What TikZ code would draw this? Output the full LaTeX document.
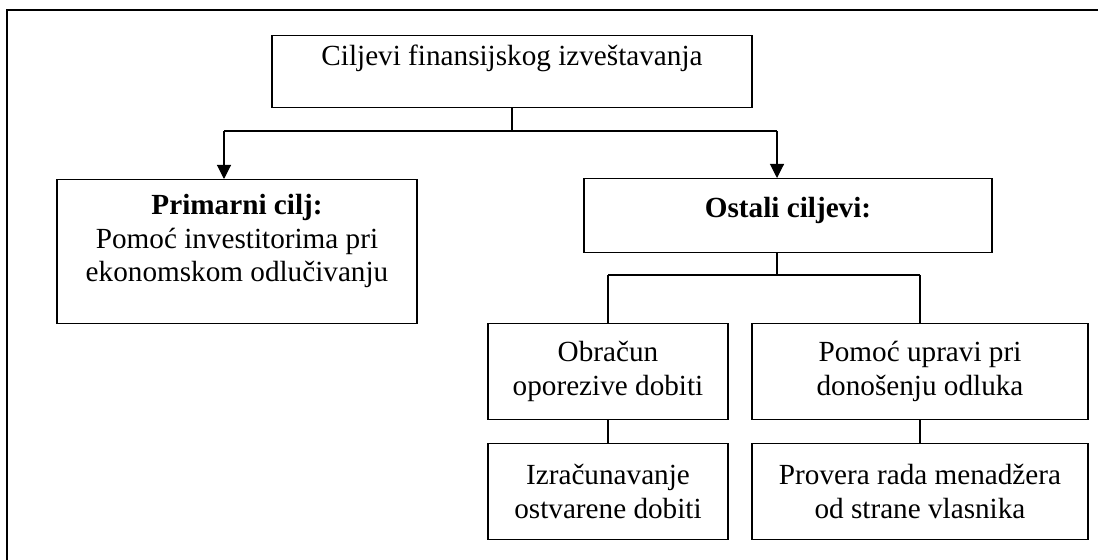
\documentclass[tikz,border=0pt]{standalone}
\usepackage{fontspec}
\setmainfont{Liberation Serif}
\usetikzlibrary{arrows.meta}

\begin{document}
\begin{tikzpicture}[x=0.5pt, y=-0.5pt, >={Triangle[length=7pt, width=7pt]}]
	\tikzstyle{box} = [draw=black, line width=0.65pt, rectangle, anchor=north, align=center, inner sep=0pt, font=\fontsize{14.6}{16.75}\selectfont]
	\tikzstyle{link} = [line width=0.55pt]

	\useasboundingbox (0, 0) rectangle (1098, 560);
	\draw[line width=0.65pt] (7, 560) |- (1098, 10);

	\node[box, minimum width=240pt, text height=15pt, text depth=21pt] at (512, 35) (cilj) {Ciljevi finansijskog izveštavanja};

	\node[box, minimum width=180pt, text height=51pt, text depth=21pt] at (237, 179) (prim) {\textbf{Primarni cilj:}\\Pomoć investitorima pri\\ekonomskom odlučivanju};
	\node[box, minimum width=204pt, text height=19.5pt, text depth=17.5pt] at (788, 178) (ost) {\textbf{Ostali ciljevi:}};

	\node[box, minimum width=120pt, minimum height=48pt] at (608, 323) (obr) {Obračun\\oporezive dobiti};
	\node[box, minimum width=168pt, minimum height=48pt] at (920, 323) (upr) {Pomoć upravi pri\\donošenju odluka};

	\node[box, minimum width=120pt, minimum height=48pt] at (608, 443) (izr) {Izračunavanje\\ostvarene dobiti};
	\node[box, minimum width=168pt, minimum height=48pt] at (920, 443) (prov) {Provera rada menadžera\\od strane vlasnika};

	\coordinate (jl) at (224, 131);
	\coordinate (jr) at (777, 131);
	\coordinate (js) at (777, 275);

	\draw[link] (cilj.south) -- (cilj.south |- jl);
	\draw[link] (jl) -- (jr);
	\draw[link, ->] (jl) -- (jl |- prim.north);
	\draw[link, ->] (jr) -- (jr |- ost.north);

	\draw[link] (js |- ost.south) -- (js);
	\draw[link] (obr.north |- js) -- (upr.north |- js);
	\draw[link] (obr.north |- js) -- (obr.north);
	\draw[link] (upr.north |- js) -- (upr.north);

	\draw[link] (obr.south) -- (izr.north);
	\draw[link] (upr.south) -- (prov.north);
\end{tikzpicture}
\end{document}
